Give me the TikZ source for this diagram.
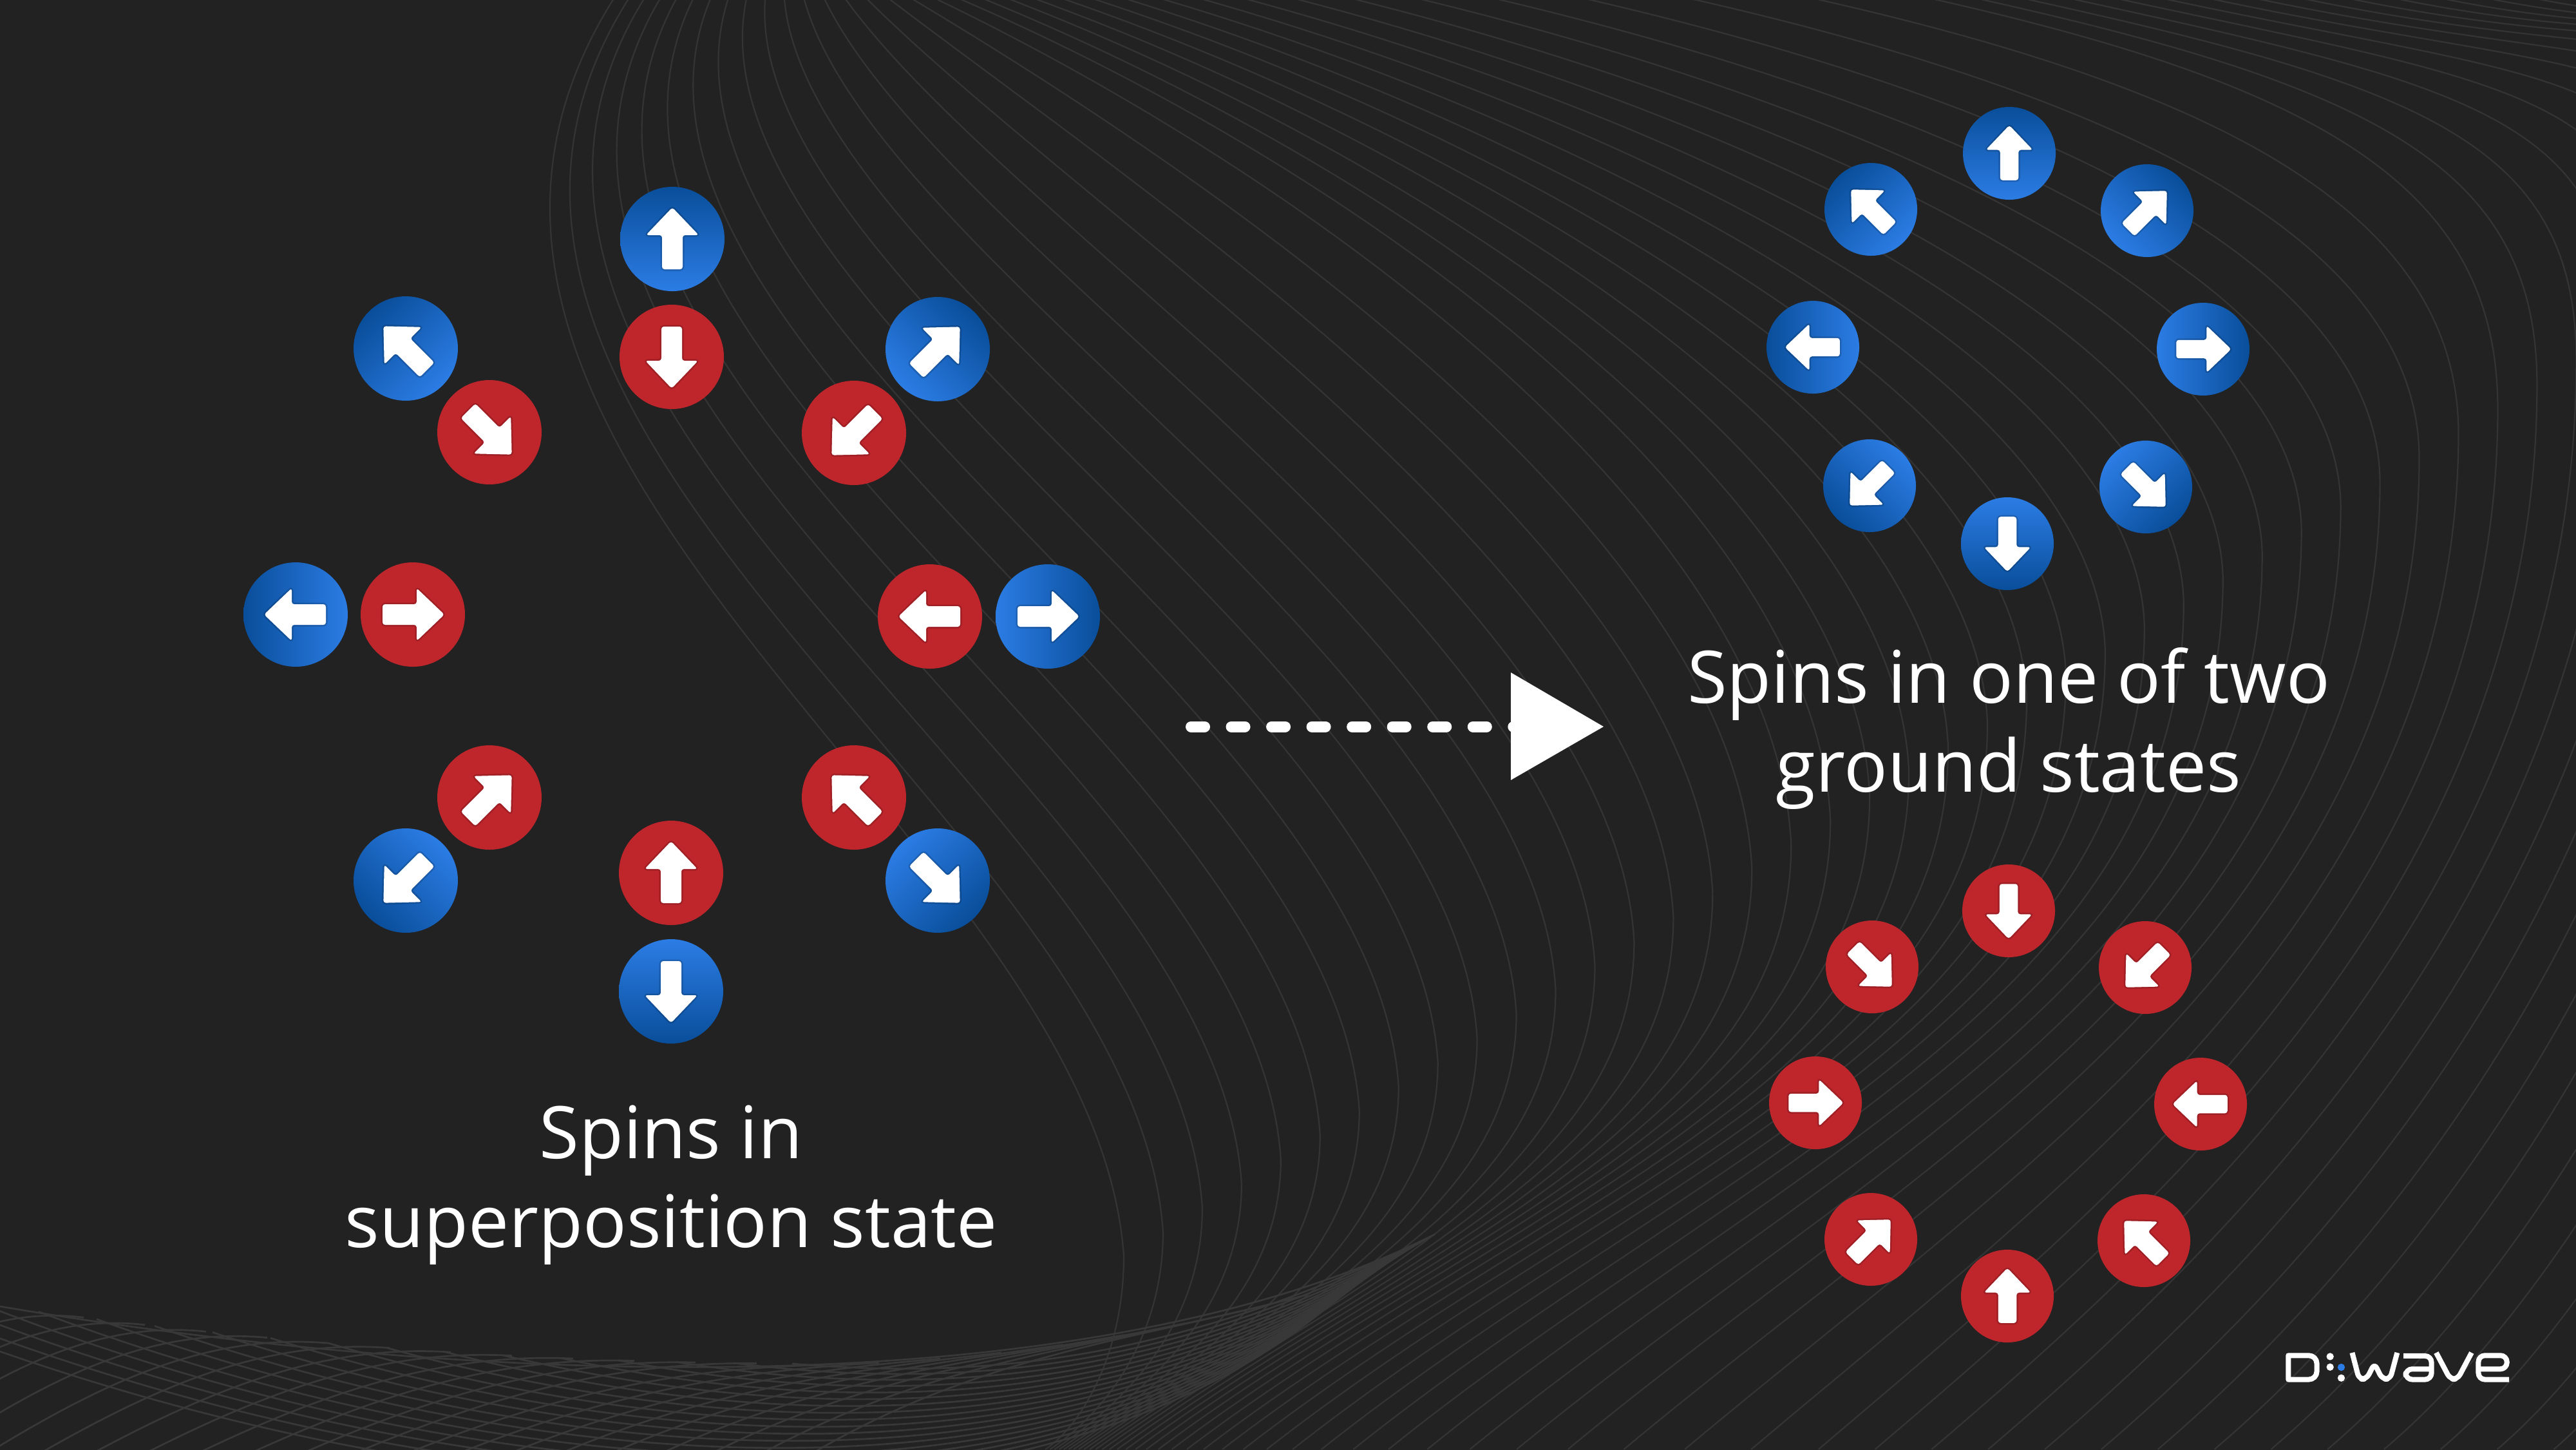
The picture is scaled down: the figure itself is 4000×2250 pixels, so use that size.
\documentclass[tikz,border=0pt]{standalone}
\usepackage{fontspec}
\setmainfont{Open Sans}
\definecolor{bgc}{HTML}{222222}
\definecolor{gridc}{HTML}{343434}
\definecolor{meshc}{HTML}{383838}
\definecolor{spinred}{HTML}{BE262C}
\definecolor{spindark}{HTML}{094E9A}
\definecolor{spinlight}{HTML}{2B7CE4}
\definecolor{logoblue}{HTML}{2B7CE4}
\tikzset{
  bgline/.style={draw=gridc,line width=.022cm},
  meshline/.style={draw=meshc,line width=.027cm},
  reddisc/.style={circle,inner sep=0pt,fill=spinred},
  bluedisc/.style={circle,inner sep=0pt,top color=spindark,bottom color=spinlight},
  caption/.style={text=white,align=center,inner sep=0pt,font=\fontsize{32}{39.2}\selectfont},
  logostroke/.style={draw=white,line width=.08cm,line join=round},
}
\newcommand{\spinarrow}[4]{%
  \begin{scope}[shift={(#1,#2)},rotate=#3,scale=#4/81]
    \draw[black,opacity=.16,line width=.05cm,rounded corners=1.1pt,line join=round]
      (0,-49) -- (41,-6) -- (16,-6) -- (16,47) -- (-16,47) -- (-16,-6) -- (-41,-6) -- cycle;
    \fill[white,rounded corners=1.1pt]
      (0,-49) -- (41,-6) -- (16,-6) -- (16,47) -- (-16,47) -- (-16,-6) -- (-41,-6) -- cycle;
  \end{scope}}
\newcommand{\bspin}[5]{%
  \node[bluedisc,shading angle=#4,minimum size={2*#5*0.01cm}] (#1) at (#2,#3) {};
  \spinarrow{#2}{#3}{#4}{#5}}
\newcommand{\rspin}[5]{%
  \node[reddisc,minimum size={2*#5*0.01cm}] (#1) at (#2,#3) {};
  \spinarrow{#2}{#3}{#4}{#5}}
\begin{document}
\begin{tikzpicture}[x=.01cm,y=-.01cm]
\useasboundingbox (0,0) rectangle (4000,2250);
\fill[bgc] (-20,-20) rectangle (4020,2270);
\begin{scope}
\clip (-20,-20) rectangle (4020,2300);
% upper sweeping family
\foreach \i in {0,...,56}{
  \pgfmathsetmacro{\u}{\i*0.0288}
  \pgfmathsetmacro{\uc}{min(\u,1)}
  \pgfmathsetmacro{\w}{min(1,\u/0.5)}
  \pgfmathsetmacro{\sx}{958+800*\uc+350*\uc*\uc+836*\uc^8+2500*(\u-\uc)}
  \pgfmathsetmacro{\vx}{1745+2117*\u}
  \pgfmathsetmacro{\vy}{1950-1305*\u}
  \pgfmathsetmacro{\cax}{\sx-458+1100*\w*sqrt(\w)}
  \pgfmathsetmacro{\cay}{130+570*(1-\uc)*(1-\uc)}
  \pgfmathsetmacro{\cbx}{\vx-45*(1-\uc)}
  \pgfmathsetmacro{\cby}{\vy-345-305*(1-\uc)}
  \pgfmathsetmacro{\ex}{1623+250*\u+927*\uc^4+2800*(\u-\uc)}
  \pgfmathsetmacro{\ccy}{\vy+0.45*(2290-\vy)}
  \pgfmathsetmacro{\ll}{0.45*(\vx-\ex)}
  \pgfmathsetmacro{\sl}{0.65+0.2*\uc}
  \pgfmathsetmacro{\cdx}{\ex+\ll}
  \pgfmathsetmacro{\cdy}{2250-\ll*\sl}
  \draw[bgline] (\sx,-10) .. controls (\cax,\cay) and (\cbx,\cby) .. (\vx,\vy)
     .. controls (\vx,\ccy) and (\cdx,\cdy) .. (\ex,2250);
}
% mesh: descending family
\foreach \s in {-300,-210,...,1260}{
  \pgfmathsetmacro{\w}{(\s-200)/1050}
  \pgfmathsetmacro{\sy}{2028+0.14*\s-0.55*(\s/100)*(\s/100)}
  \pgfmathsetmacro{\cax}{900+600*\w}
  \pgfmathsetmacro{\cay}{2300-165*\w}
  \pgfmathsetmacro{\cbx}{1700+100*\w}
  \pgfmathsetmacro{\cby}{2340-215*\w}
  \pgfmathsetmacro{\kx}{2120+110*(\w+0.5)/1.5}
  \pgfmathsetmacro{\ky}{1975-60*(\w+0.5)/1.5}
  \draw[meshline] (\s,\sy) .. controls (\cax,\cay) and (\cbx,\cby) .. (\kx,\ky);
}
% mesh: rising family
\foreach \k in {0,...,20}{
  \pgfmathsetmacro{\t}{130+95*\k}
  \pgfmathsetmacro{\b}{-362+80*\k}
  \pgfmathsetmacro{\ty}{\t<1200 ? 2028+0.14*\t-0.55*(\t/100)*(\t/100) : 2120-1.6*((\t-1200)/100)*((\t-1200)/100)}
  \pgfmathsetmacro{\sl}{\t<1200 ? 0.14-0.00011*\t : -0.00032*(\t-1200)}
  \pgfmathsetmacro{\ll}{0.35*(\t-\b)}
  \pgfmathsetmacro{\cax}{\b+\ll}
  \pgfmathsetmacro{\cay}{2270-0.65*(2270-\ty)}
  \pgfmathsetmacro{\cbx}{\t-\ll}
  \pgfmathsetmacro{\cby}{\ty-\ll*\sl}
  \draw[meshline] (\b,2270) .. controls (\cax,\cay) and (\cbx,\cby) .. (\t,\ty);
}
\draw[meshline] (0,2028) .. controls (600,2130) and (1600,2210) .. (2200,1930);
\end{scope}

% left group
\bspin{ln}{1044}{371}{0}{81}
\rspin{ls}{1043}{554}{180}{81}
\bspin{lnw}{630}{541}{45}{81}
\rspin{lse}{760}{671}{225}{81}
\bspin{lne}{1456}{542}{-45}{81}
\rspin{lsw}{1326}{672}{135}{81}
\bspin{lw}{459}{954}{90}{81}
\rspin{le}{641}{954}{-90}{81}
\rspin{rw}{1444}{957}{90}{81}
\bspin{re}{1627}{957}{-90}{81}
\rspin{bne}{760}{1238}{-45}{81}
\bspin{bsw}{630}{1367}{135}{81}
\rspin{bnw}{1326}{1238}{45}{81}
\bspin{bse}{1456}{1367}{225}{81}
\rspin{bn}{1042}{1355}{0}{81}
\bspin{bs}{1042}{1539}{180}{81}

% upper ring
\bspin{tn}{3120}{238}{0}{72}
\bspin{tnw}{2905}{325}{45}{72}
\bspin{tne}{3334}{327}{-45}{72}
\bspin{tw}{2815}{539}{90}{72}
\bspin{te}{3421}{542}{-90}{72}
\bspin{tsw}{2903}{754}{135}{72}
\bspin{tse}{3332}{756}{225}{72}
\bspin{ts}{3117}{844}{180}{72}

% lower ring
\rspin{us}{3119}{1414}{180}{72}
\rspin{use}{2907}{1501}{225}{72}
\rspin{usw}{3331}{1502}{135}{72}
\rspin{ue}{2819}{1712}{-90}{72}
\rspin{uw}{3417}{1714}{90}{72}
\rspin{une}{2905}{1924}{-45}{72}
\rspin{unw}{3329}{1926}{45}{72}
\rspin{un}{3117}{2012}{0}{72}

% dashed arrow
\coordinate (dashstart) at (1849.5,1128);
\coordinate (dashend) at (2370,1128);
\draw[white,line width=.17cm,line cap=round,dash pattern=on .21cm off .415cm] (dashstart) -- (dashend);
\fill[white] (2346,1044) -- (2490,1128) -- (2346,1211) -- cycle;

% captions
\node[caption] (capleft) at (1042,1840) {Spins in\\superposition state};
\node[caption] (capright) at (3119,1131) {Spins in one of two\\ground states};

% logo
\begin{scope}[shift={(3500,2050)},x=.003333cm,y=-.003333cm]
  \draw[logostroke] (160,163) -- (255,163) to[out=0,in=90] (293,200) -- (293,238) to[out=-90,in=0] (255,275) -- (160,275) -- cycle;
  \fill[white] (355,168) circle (17);
  \fill[white] (355,217) circle (17);
  \fill[logoblue] (407,218) circle (17);
  \fill[white] (407,268) circle (17);
  \draw[logostroke,rounded corners=.08cm] (458,150) -- (490,273) -- (525,273) -- (562,200) -- (598,273) -- (635,273) -- (668,150);
  \draw[logostroke,rounded corners=.1cm] (697,165) -- (828,165) -- (828,275) -- (708,275) -- (708,226) -- (828,226);
  \draw[logostroke,rounded corners=.08cm] (850,150) -- (915,273) -- (950,273) -- (1015,150);
  \draw[logostroke,rounded corners=.1cm] (1190,275) -- (1047,275) -- (1047,163) -- (1180,163) -- (1180,226) -- (1047,226);
\end{scope}
\end{tikzpicture}
\end{document}
